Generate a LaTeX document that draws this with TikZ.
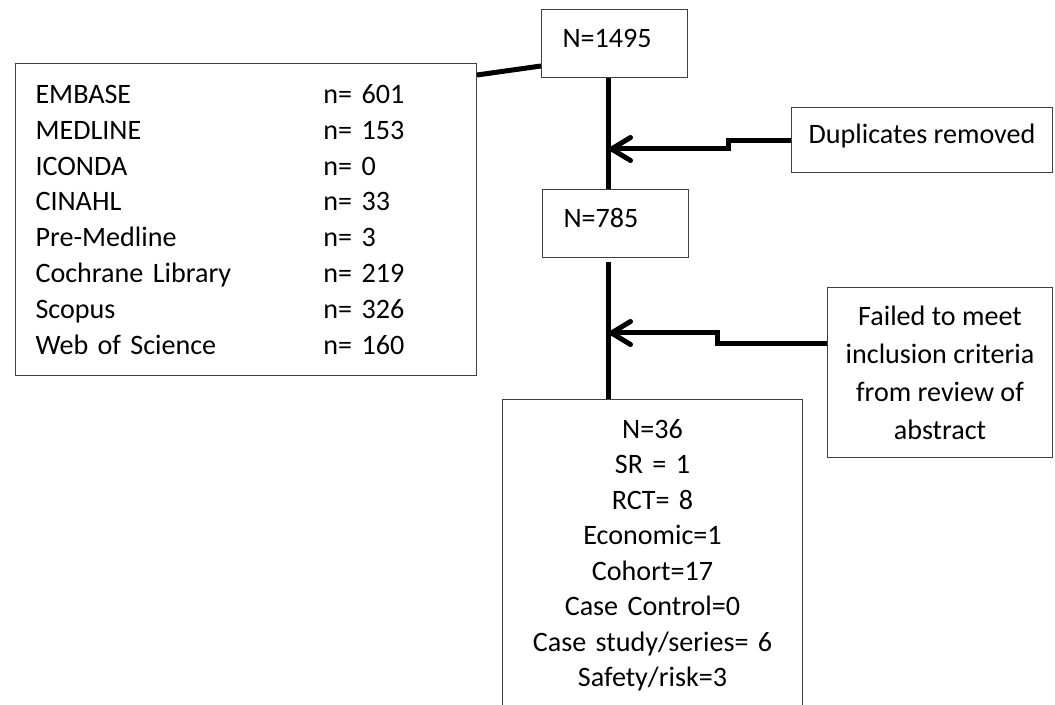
\documentclass[tikz,border=0pt]{standalone}
\usepackage{fontspec}
\setmainfont{Carlito}
\usetikzlibrary{arrows.meta,calc}
\begin{document}
\begin{tikzpicture}[x=0.02cm,y=-0.02cm]
			% Styles (MODIFIABLES)
			\tikzstyle{trait}=[line width=0.1cm]
			\tikzstyle{fleche}=[trait,-{Straight Barb[length=0.38cm,width=0.46cm,round]}]
			\tikzstyle{boite}=[draw=black!75,line width=0.6pt,font=\fontsize{16}{20.4}\selectfont]
			\tikzstyle{etape}=[boite,anchor=north west,inner xsep=0.42cm,inner ysep=0pt,text width=2.08cm,align=left,text height=0.76cm,text depth=0.6cm]
			\tikzstyle{commentaire}=[boite,anchor=north west,align=center]
			% Cadre
			\useasboundingbox (0,0) rectangle (1055,705);
			\coordinate (axe) at (608,0);
			% Noeuds
			\node[boite,anchor=north west,minimum width=9.22cm,minimum height=6.24cm,inner xsep=0.4cm,text width=8.42cm,align=left] (sources) at (15,63)
				{\makebox[5.76cm][l]{EMBASE}n= 601\\
				 \makebox[5.76cm][l]{MEDLINE}n= 153\\
				 \makebox[5.76cm][l]{ICONDA}n= 0\\
				 \makebox[5.76cm][l]{CINAHL}n= 33\\
				 \makebox[5.76cm][l]{Pre-Medline}n= 3\\
				 \makebox[5.76cm][l]{Cochrane Library}n= 219\\
				 \makebox[5.76cm][l]{Scopus}n= 326\\
				 \makebox[5.76cm][l]{Web of Science}n= 160};
			\node[etape] (n1495) at (541,9) {N=1495};
			\node[etape] (n785) at (542,189) {N=785};
			\node[boite,anchor=north west,minimum width=6cm,inner xsep=0.2cm,inner ysep=0.4cm,text width=5.6cm,align=center,font=\fontsize{16}{20.2}\selectfont] (n36) at (502,399)
				{N=36\\ SR = 1\\ RCT= 8\\ Economic=1\\ Cohort=17\\ Case Control=0\\ Case study/series= 6\\ Safety/risk=3};
			\node[commentaire,minimum width=5.22cm,inner sep=0pt,text height=0.72cm,text depth=0.58cm] (dupl) at (791,107) {Duplicates removed};
			\node[commentaire,minimum width=4.5cm,minimum height=3.4cm,font=\fontsize{16}{21.6}\selectfont] (echec) at (827,287)
				{Failed to meet\\ inclusion criteria\\ from review of\\ abstract};
			% Arcs
			\coordinate (c1) at (609,149);
			\coordinate (c2) at (609,333);
			\draw[trait] ($(sources.north east)+(0,12)$) -- ($(n1495.north west)+(0,57)$);
			\draw[trait] (n1495.south -| axe) -- (n785.north -| axe);
			\draw[trait] ($(n785.south -| axe)+(0,4)$) -- (n36.north -| axe);
			\draw[fleche] (dupl.west) -- ++(-63,0) |- (c1);
			\draw[fleche] ($(echec.north west)+(0,57)$) -- ++(-110,0) |- (c2);
\end{tikzpicture}
\end{document}
